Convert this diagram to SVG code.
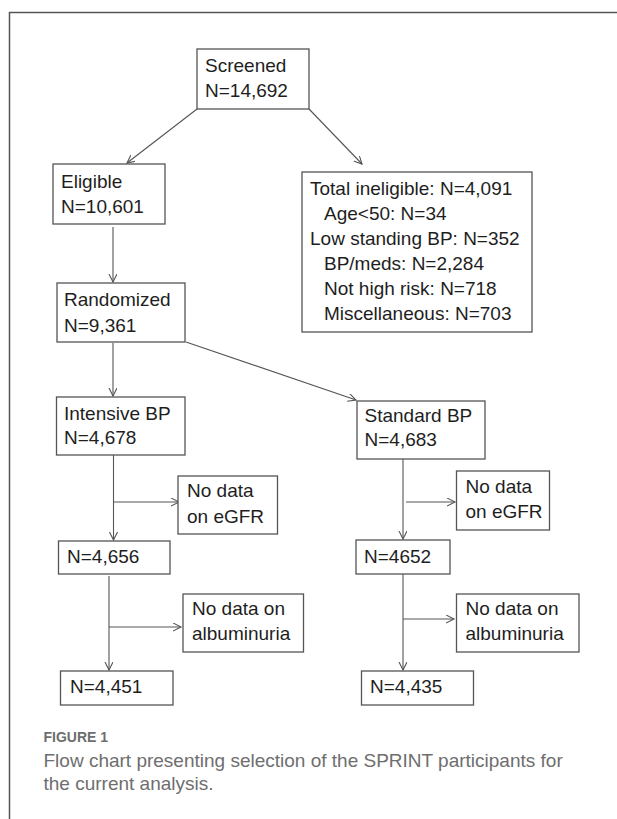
<svg xmlns="http://www.w3.org/2000/svg" width="617" height="819" viewBox="0 0 617 819">
<style>
  .box { fill: #ffffff; stroke: #555555; stroke-width: 1.3; }
  .t { font-family: "Liberation Sans", Arial, sans-serif; font-size: 19px; fill: #1e1e1e; }
  .conn line, .conn path { stroke: #555555; stroke-width: 1.1; fill: none; }
  .cap { font-family: "Liberation Sans", Arial, sans-serif; fill: #6e6e6e; }
</style>
<defs>
  <marker id="arr" markerUnits="userSpaceOnUse" markerWidth="12" markerHeight="12" refX="8" refY="4" orient="auto">
    <path d="M0,0 L8,4 L0,8" fill="none" stroke="#555555" stroke-width="1.1"/>
  </marker>
</defs>
<rect width="617" height="819" fill="#ffffff"/>
<g id="frame">
  <line x1="9.5" y1="12.5" x2="617" y2="12.5" stroke="#555555" stroke-width="1.5"/>
  <line x1="9.5" y1="12" x2="9.5" y2="819" stroke="#555555" stroke-width="1.5"/>
</g>
<g class="conn" id="connectors">
  <line x1="197" y1="109" x2="127" y2="163" marker-end="url(#arr)"/>
  <line x1="309" y1="109" x2="362" y2="164" marker-end="url(#arr)"/>
  <line x1="113" y1="227" x2="113" y2="282" marker-end="url(#arr)"/>
  <line x1="113" y1="343" x2="113" y2="396" marker-end="url(#arr)"/>
  <line x1="186" y1="342" x2="356" y2="400" marker-end="url(#arr)"/>
  <line x1="113.5" y1="455" x2="113.5" y2="540" marker-end="url(#arr)"/>
  <line x1="113.5" y1="502" x2="179" y2="502" marker-end="url(#arr)"/>
  <line x1="403" y1="459" x2="403" y2="539" marker-end="url(#arr)"/>
  <line x1="406" y1="502" x2="455" y2="502" marker-end="url(#arr)"/>
  <line x1="109" y1="576" x2="109" y2="670" marker-end="url(#arr)"/>
  <line x1="109" y1="627" x2="181" y2="627" marker-end="url(#arr)"/>
  <line x1="403" y1="574" x2="403" y2="670" marker-end="url(#arr)"/>
  <line x1="403" y1="619" x2="454" y2="619" marker-end="url(#arr)"/>
</g>
<g id="screened">
  <rect class="box" x="197" y="49" width="112" height="60"/>
  <text class="t" x="205" y="72">Screened</text>
  <text class="t" x="205" y="97">N=14,692</text>
</g>
<g id="eligible">
  <rect class="box" x="53" y="164" width="112" height="60"/>
  <text class="t" x="61" y="188">Eligible</text>
  <text class="t" x="61" y="213">N=10,601</text>
</g>
<g id="ineligible">
  <rect class="box" x="302" y="172" width="230" height="160"/>
  <text class="t" x="310" y="195">Total ineligible: N=4,091</text>
  <text class="t" x="324" y="220">Age&lt;50: N=34</text>
  <text class="t" x="310" y="245">Low standing BP: N=352</text>
  <text class="t" x="324" y="270">BP/meds: N=2,284</text>
  <text class="t" x="324" y="295">Not high risk: N=718</text>
  <text class="t" x="324" y="320">Miscellaneous: N=703</text>
</g>
<g id="randomized">
  <rect class="box" x="57" y="283" width="128" height="59"/>
  <text class="t" x="64" y="306">Randomized</text>
  <text class="t" x="64" y="332">N=9,361</text>
</g>
<g id="intensive">
  <rect class="box" x="56.5" y="397" width="128.5" height="58"/>
  <text class="t" x="64" y="420">Intensive BP</text>
  <text class="t" x="64" y="444">N=4,678</text>
</g>
<g id="standard">
  <rect class="box" x="357" y="401" width="128" height="58"/>
  <text class="t" x="364.5" y="422">Standard BP</text>
  <text class="t" x="364.5" y="446">N=4,683</text>
</g>
<g id="nodata-egfr-1">
  <rect class="box" x="178" y="476" width="99.5" height="58"/>
  <text class="t" x="187" y="497">No data</text>
  <text class="t" x="187" y="523">on eGFR</text>
</g>
<g id="nodata-egfr-2">
  <rect class="box" x="456.5" y="471" width="93" height="59"/>
  <text class="t" x="465.5" y="493">No data</text>
  <text class="t" x="465.5" y="518">on eGFR</text>
</g>
<g id="n4656">
  <rect class="box" x="58.5" y="541" width="111.5" height="33"/>
  <text class="t" x="67" y="563">N=4,656</text>
</g>
<g id="n4652">
  <rect class="box" x="356" y="540" width="94" height="34"/>
  <text class="t" x="364" y="563">N=4652</text>
</g>
<g id="nodata-alb-1">
  <rect class="box" x="183" y="594" width="120.5" height="58"/>
  <text class="t" x="192" y="615">No data on</text>
  <text class="t" x="192" y="640">albuminuria</text>
</g>
<g id="nodata-alb-2">
  <rect class="box" x="456.5" y="594" width="122.5" height="58"/>
  <text class="t" x="465.5" y="615">No data on</text>
  <text class="t" x="465.5" y="640">albuminuria</text>
</g>
<g id="n4451">
  <rect class="box" x="60.5" y="671" width="112.5" height="34"/>
  <text class="t" x="70" y="693">N=4,451</text>
</g>
<g id="n4435">
  <rect class="box" x="361.5" y="671" width="112" height="34"/>
  <text class="t" x="370" y="693">N=4,435</text>
</g>
<g id="caption">
  <text class="cap" x="43.5" y="742" font-size="14" font-weight="bold">FIGURE 1</text>
  <text class="cap" x="43.5" y="767" font-size="19">Flow chart presenting selection of the SPRINT participants for</text>
  <text class="cap" x="43.5" y="790" font-size="19">the current analysis.</text>
</g>
</svg>
